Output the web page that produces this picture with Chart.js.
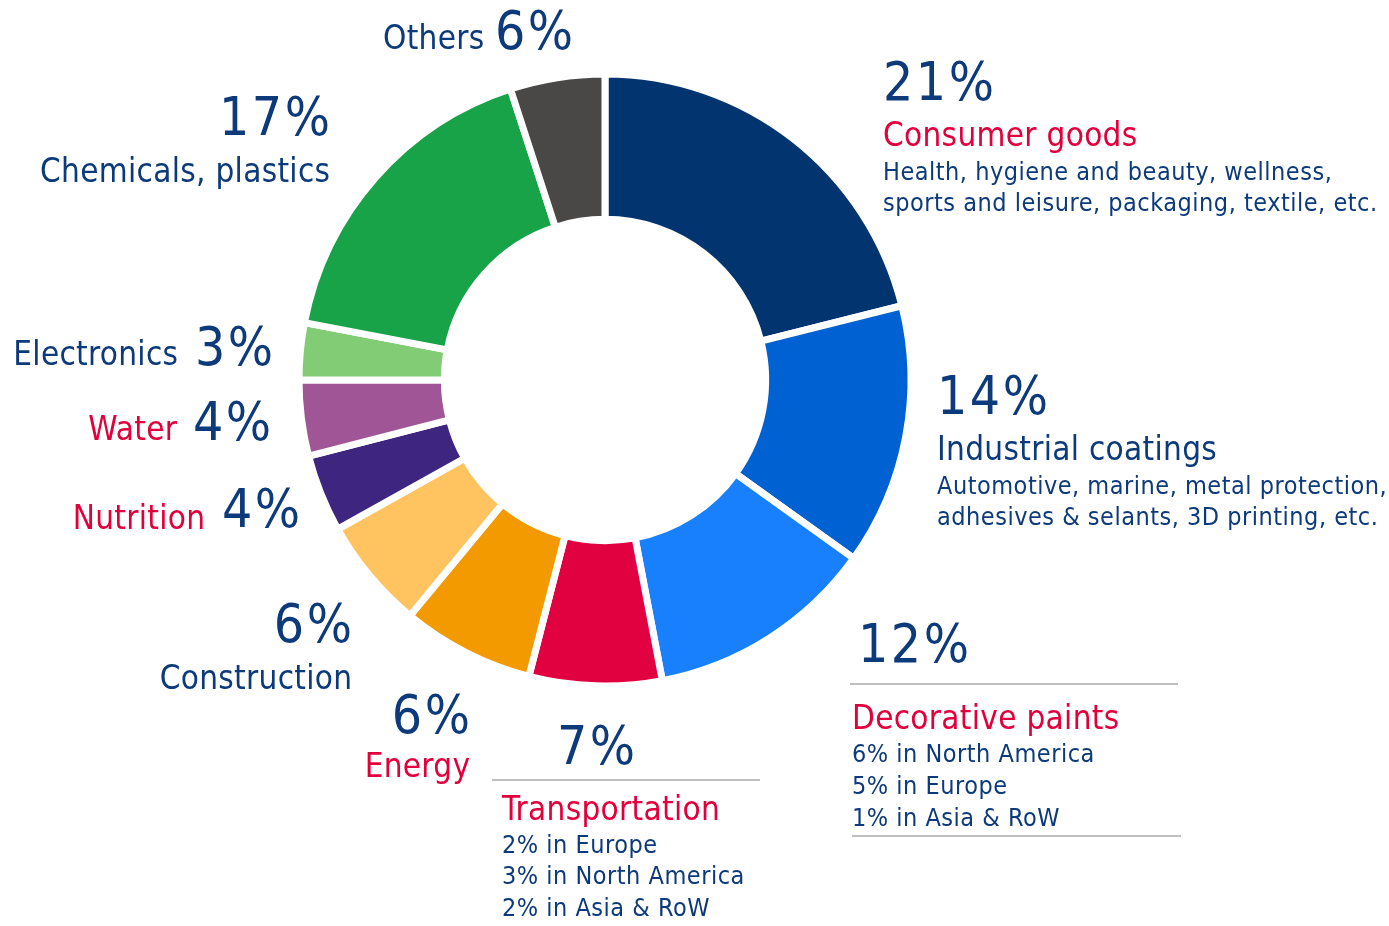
<!doctype html>
<html lang="en">
<head>
<meta charset="UTF-8" />
<title>End markets</title>
<style>
body{margin:0;background:#fff;}
#wrap{position:relative;width:1389px;height:926px;overflow:hidden;font-family:"DejaVu Sans Condensed","DejaVu Sans",sans-serif;font-stretch:condensed;}
#canvas{position:absolute;left:0;top:0;}
.t{position:absolute;white-space:nowrap;line-height:1;color:#0d3a7b;}
.red{color:#e1003c;}
.rule{position:absolute;height:0;border-top:2px solid #bfbfbf;}
</style>
</head>
<body>
<div id="wrap"><canvas id="canvas" width="1389" height="926"></canvas></div>
<script src="https://cdn.jsdelivr.net/npm/chart.js"></script>
<script>
// slices clockwise from 12 o'clock
const sectors = ['Consumer goods','Industrial coatings','Decorative paints','Transportation','Energy','Construction','Nutrition','Water','Electronics','Chemicals, plastics','Others']
const shares = [21.1, 13.8, 12.1, 7.0, 7.0, 5.9, 4.1, 4.0, 3.0, 17.0, 5.0]   // slice sizes as drawn
const pctText = ['21%','14%','12%','7%','6%','6%','4%','4%','3%','17%','6%']
const details = [
  ['Health, hygiene and beauty, wellness,','sports and leisure, packaging, textile, etc.'],
  ['Automotive, marine, metal protection,','adhesives & selants, 3D printing, etc.'],
  ['6% in North America','5% in Europe','1% in Asia & RoW'],
  ['2% in Europe','3% in North America','2% in Asia & RoW'],
  [],[],[],[],[],[],[]
]
const colors = ['#023570','#0061d2','#187ffd','#e10040','#f29a00','#ffc35f','#3e2680','#a05597','#82cc76','#18a348','#4a4846']
const redName = [true,false,true,true,true,false,true,true,false,false,false]

// [size, letter spacing]
const BIG = [53, 2.5], MID = [33, 0.3], SMALL = [25, 0.5]
// label layout: [x, baseline, align]
const layout = [
  {pct:[883,100,'l'], name:[883,146,'l'], sub:[883,180,31]},
  {pct:[937,414,'l'], name:[937,460,'l'], sub:[937,494,31]},
  {pct:[858,662,'l'], name:[852,729,'l'], sub:[852,762,32], rules:[[850,1178,683],[852,1181,835]]},
  {pct:[557,764,'l'], name:[502,820,'l'], sub:[502,853,31.5], rules:[[492,760,779]]},
  {pct:[470,733,'r'], name:[470,777,'r']},
  {pct:[352,642,'r'], name:[352,689,'r']},
  {pct:[222,527,'l'], name:[205,529,'r']},
  {pct:[193,440,'l'], name:[177,440,'r']},
  {pct:[195,365,'l'], name:[178,365,'r']},
  {pct:[330,135,'r'], name:[330,182,'r']},
  {pct:[495,49,'l'], name:[383,49,'l']}
]

function GEBI(e){return document.getElementById(e)}
const wrap = GEBI('wrap')
function put(text, pos, font, red){
  let d = document.createElement('div')
  d.className = red ? 't red' : 't'
  d.textContent = text
  d.style.fontSize = font[0]+'px'
  d.style.letterSpacing = font[1]+'px'
  d.style.top = (pos[1] - 0.846*font[0])+'px'
  if (pos[2]=='r') d.style.right = (1389-pos[0]-font[1])+'px'  // trailing letter spacing
  else d.style.left = pos[0]+'px'
  wrap.appendChild(d)
}

new Chart(GEBI('canvas'), {
  type: 'doughnut',
  data: {
    labels: sectors,
    datasets: [{data: shares, backgroundColor: colors, borderColor: '#ffffff', borderWidth: 7, hoverOffset: 0}]
  },
  options: {
    responsive: false,
    animation: false,
    devicePixelRatio: 1,
    cutout: '52.5%',
    radius: 306,
    layout: {padding: {left: 299, top: 74, right: 478, bottom: 240}},
    plugins: {legend: {display: false}, tooltip: {enabled: false}}
  }
})

layout.forEach((L, i) => {
  put(pctText[i], L.pct, BIG, false)
  put(sectors[i], L.name, MID, redName[i])
  if (L.sub) details[i].forEach((s, k) => put(s, [L.sub[0], L.sub[1] + k*L.sub[2], 'l'], SMALL, false))
  if (L.rules) L.rules.forEach(r => {
    let d = document.createElement('div')
    d.className = 'rule'
    d.style.left = r[0]+'px'; d.style.width = (r[1]-r[0])+'px'; d.style.top = r[2]+'px'
    wrap.appendChild(d)
  })
})
</script>
</body>
</html>
